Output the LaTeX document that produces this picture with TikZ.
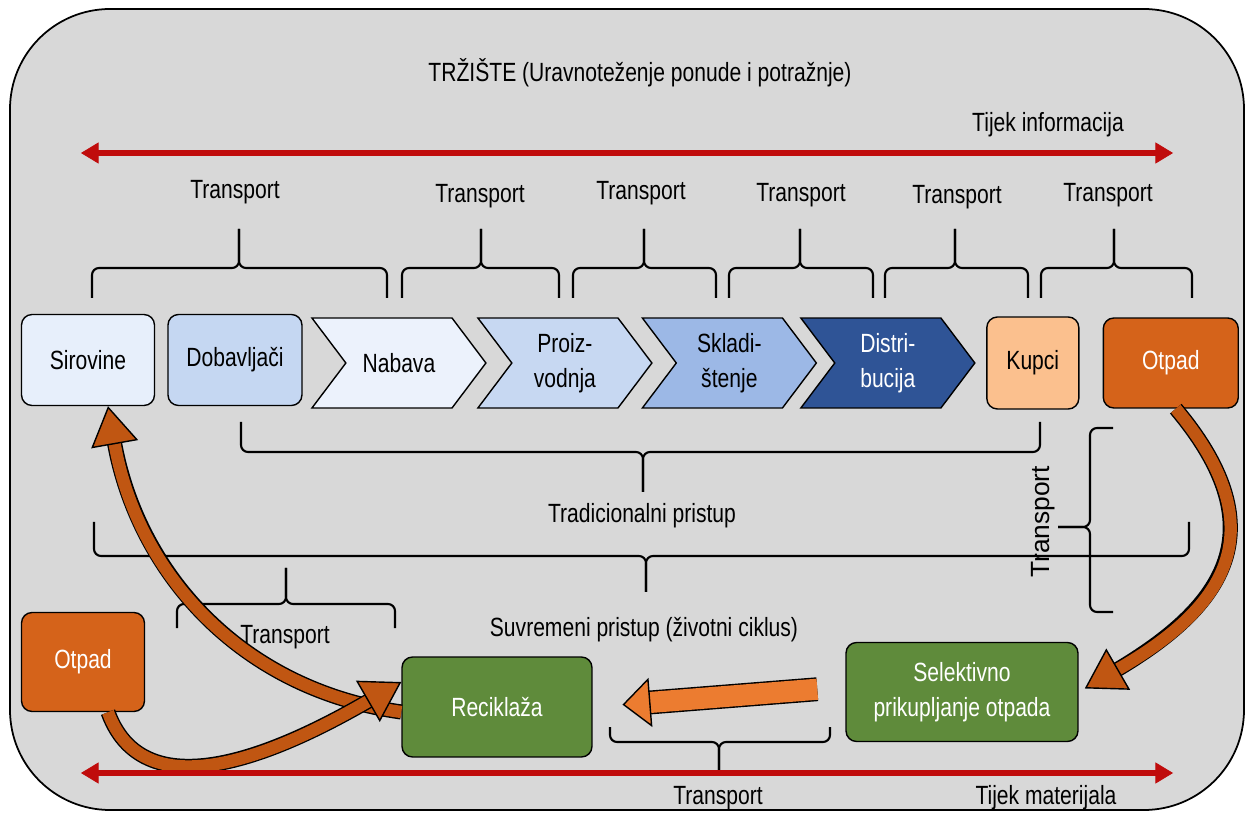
\documentclass[tikz,border=0pt]{standalone}
\usepackage{fontspec}
\setmainfont{Liberation Sans}[FakeStretch=0.8]
\newfontfamily\widefont{Liberation Sans}
\usetikzlibrary{shapes.symbols, arrows.meta}

\definecolor{framegray}{RGB}{216,216,216}
\definecolor{palebl}{RGB}{231,239,251}
\definecolor{lightbl}{RGB}{197,215,242}
\definecolor{nabavabl}{RGB}{236,242,252}
\definecolor{proizbl}{RGB}{199,216,242}
\definecolor{midbl}{RGB}{156,184,230}
\definecolor{darkbl}{RGB}{47,84,150}
\definecolor{peach}{RGB}{251,192,142}
\definecolor{wasteor}{RGB}{213,99,26}
\definecolor{recgreen}{RGB}{95,139,59}
\definecolor{bandor}{RGB}{192,86,18}
\definecolor{flatorange}{RGB}{236,124,48}
\definecolor{flowred}{RGB}{192,12,12}

\tikzstyle{frame} = [draw=black, line width=1pt, fill=framegray, rounded corners=57pt]
\tikzstyle{box} = [rectangle, rounded corners=6pt, draw=black, line width=0.8pt, align=center, inner sep=2pt]
\tikzstyle{stage} = [signal, signal to=east, signal from=west, signal pointer angle=106, draw=black, line width=0.8pt, minimum width=3.48cm, minimum height=1.8cm, align=center, inner sep=1pt]
\tikzstyle{flow} = [line width=3pt, draw=flowred, {Triangle[length=10pt, width=12pt, line width=0.4pt]}-{Triangle[length=10pt, width=12pt, line width=0.4pt]}]
\tikzstyle{bracepath} = [line width=1.2pt, rounded corners=4pt]
\tikzstyle{bandarrow} = [line width=7pt, draw=bandor, -{Triangle[length=22pt, width=27pt, color=black, fill=bandor, line width=0.8pt]}, preaction={draw=black, line width=8.6pt, -, shorten >=20pt}]
\tikzstyle{flatarrow} = [line width=12pt, draw=flatorange, shorten <=16pt, shorten >=17pt, -{Triangle[length=16pt, width=28pt, color=black, fill=flatorange, line width=0.8pt]}, preaction={draw=black, line width=13.6pt, -, shorten >=31pt}]

% ends at x #1 and #3, tip at x #2; y of ends, bar and tip
\newcommand{\hbrace}[6]{%
  \draw[bracepath] (#1,#4) -- (#1,#5) -- (#2,#5) -- (#2,#6);
  \draw[bracepath] (#3,#4) -- (#3,#5) -- (#2,#5) -- (#2,#6);}

\begin{document}
\begin{tikzpicture}[x=0.02cm, y=-0.02cm, font=\fontsize{15}{20}\selectfont]
  \useasboundingbox (0,0) rectangle (1249,814);
  \draw[frame] (10,9) rectangle (1244,810);
  \node (title) at (640,73) {TRŽIŠTE (Uravnoteženje ponude i potražnje)};
  \node (info) at (1048,125) {Tijek informacija};
  \coordinate (infoL) at (81,153);
  \coordinate (infoR) at (1173,153);
  \draw[flow] (infoL) -- (infoR);

  % transport braces above the chain
  \hbrace{92}{239}{387}{298}{268}{229}
  \hbrace{402}{481}{559}{298}{268}{229}
  \hbrace{573}{644}{716}{298}{268}{229}
  \hbrace{729}{800}{873}{298}{268}{229}
  \hbrace{885}{955}{1028}{298}{268}{229}
  \hbrace{1041}{1114}{1192}{298}{268}{229}
  \node (t1) at (235,192) {Transport};
  \node (t2) at (480,196) {Transport};
  \node (t3) at (641,193) {Transport};
  \node (t4) at (801,195) {Transport};
  \node (t5) at (957,197) {Transport};
  \node (t6) at (1108,195) {Transport};

  % supply chain
  \node (sirovine) [box, fill=palebl, minimum width=2.66cm, minimum height=1.82cm] at (88,360) {Sirovine};
  \node (dobavljaci) [box, fill=lightbl, minimum width=2.68cm, minimum height=1.82cm, right of=sirovine, xshift=1.94cm] {Dobavljači};
  \node (nabava) [stage, fill=nabavabl, right of=dobavljaci, xshift=2.28cm, yshift=-0.06cm] {Nabava};
  \node (proizvodnja) [stage, fill=proizbl, right of=nabava, xshift=2.32cm] {Proiz-\\vodnja};
  \node (skladistenje) [stage, fill=midbl, right of=proizvodnja, xshift=2.29cm] {Skladi-\\štenje};
  \node (distribucija) [stage, fill=darkbl, text=white, right of=skladistenje, xshift=2.17cm] {Distri-\\bucija};
  \node (kupci) [box, fill=peach, minimum width=1.84cm, minimum height=1.84cm, right of=distribucija, xshift=1.9cm] {Kupci};
  \node (otpad) [box, fill=wasteor, text=white, minimum width=2.7cm, minimum height=1.8cm, right of=kupci, xshift=1.76cm] {Otpad};

  % approaches
  \hbrace{241}{643}{1040}{422}{452}{492}
  \node (tradicionalni) at (642,516) {Tradicionalni pristup};
  \hbrace{94}{646}{1189}{522}{556}{592}
  \node (suvremeni) at (644,630) {Suvremeni pristup (životni ciklus)};
  \draw[bracepath] (1113,428) -- (1090,428) -- (1090,527) -- (1058,527);
  \draw[bracepath] (1113,612) -- (1090,612) -- (1090,527) -- (1058,527);
  \node (t7) [rotate=90, font=\widefont\fontsize{15}{18}\selectfont] at (1043,522) {Transport};

  % life cycle
  \node (otpad2) [box, fill=wasteor, text=white, minimum width=2.46cm, minimum height=1.98cm] at (83,662) {Otpad};
  \node (reciklaza) [box, fill=recgreen, text=white, minimum width=3.8cm, minimum height=2cm] at (497,707) {Reciklaža};
  \node (selektivno) [box, fill=recgreen, text=white, minimum width=4.64cm, minimum height=1.98cm] at (962,692) {Selektivno\\prikupljanje otpada};
  \hbrace{177}{286}{395}{628}{604}{568}
  \node (t8) at (285,637) {Transport};
  \hbrace{610}{719}{830}{727}{742}{770}
  \node (t9) at (718,798) {Transport};

  \draw[bandarrow] ([yshift=-0.1cm]reciklaza.west) to[out=172, in=-80] ([xshift=0.4cm]sirovine.south);
  \draw[bandarrow] ([xshift=0.5cm]otpad2.south) to[out=-70, in=210] ([yshift=0.5cm]reciklaza.west);
  \draw[bandarrow, shorten >=4pt] ([xshift=0.1cm]otpad.south) to[out=-50, in=30, looseness=1.4] (selektivno.east);
  \draw[flatarrow] ([yshift=0.1cm]selektivno.west) -- (reciklaza.east);

  \coordinate (matL) at (81,773);
  \coordinate (matR) at (1173,773);
  \draw[flow] (matL) -- (matR);
  \node (materijal) at (1046,798) {Tijek materijala};
\end{tikzpicture}
\end{document}
